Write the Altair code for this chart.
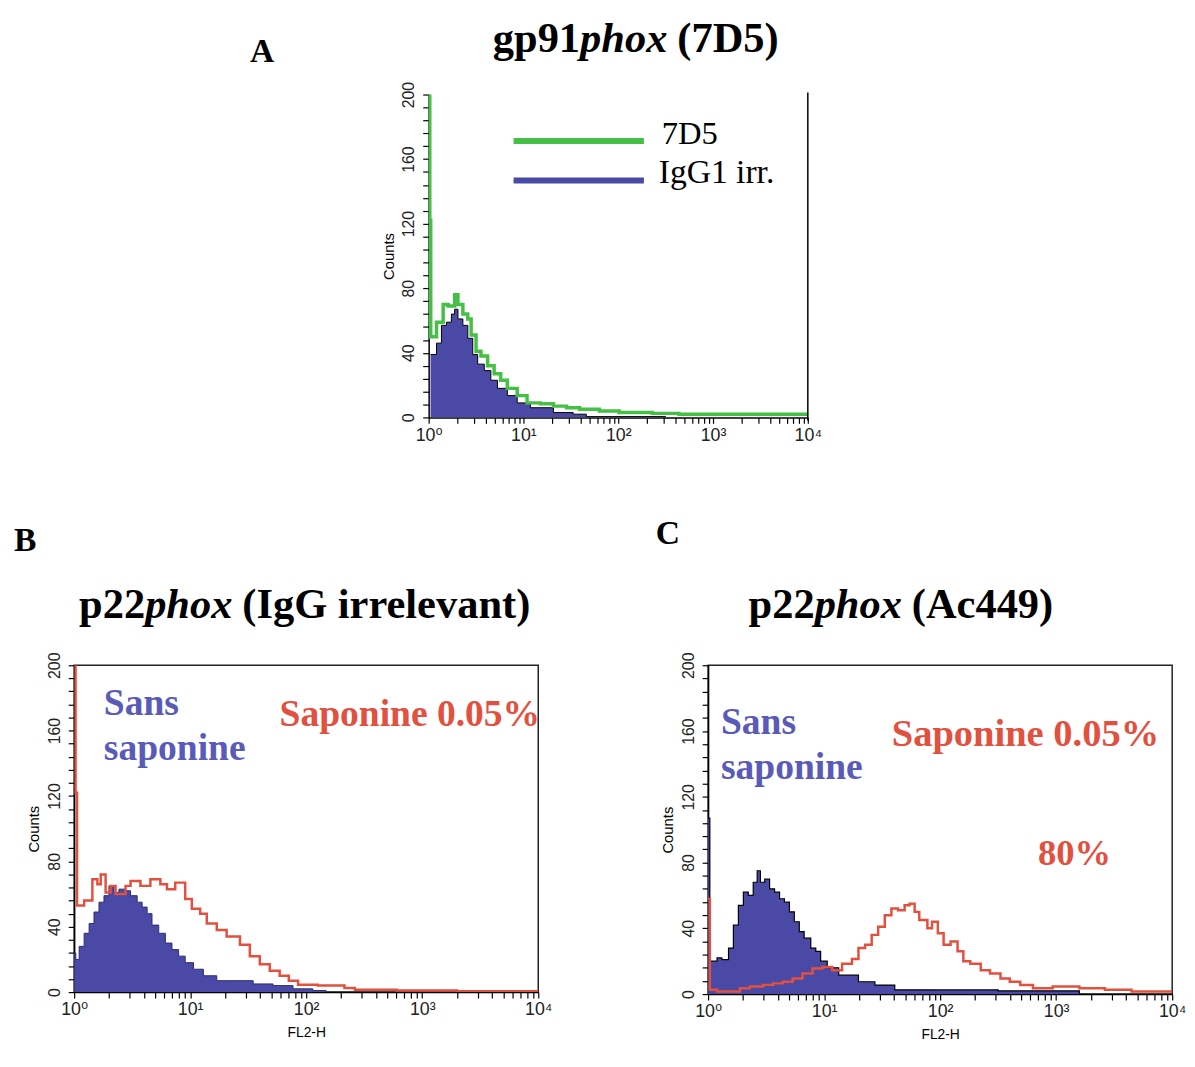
import altair as alt
import pandas as pd

# ---------------- data (x in decades, y = counts) ----------------
# Panel A : gp91phox (7D5)
a_green_logx = [0, 0.012, 0.022, 0.083, 0.153, 0.205, 0.274, 0.309, 0.361, 0.413, 0.448,
                0.5, 0.552, 0.622, 0.691, 0.76, 0.83, 0.934, 1.038, 1.177, 1.316, 1.455,
                1.594, 1.80, 2.01, 2.36, 2.64, 4.0]
a_green_counts = [250, 122, 50, 59, 70, 69, 76, 70, 64, 61, 51,
                  41, 38, 32, 27, 23, 18, 13.5, 9, 8.5, 7, 6,
                  5, 4, 3, 2.5, 2, 2]
a_blue_logx = [0.02, 0.083, 0.135, 0.188, 0.24, 0.274, 0.309, 0.361, 0.413, 0.465, 0.517,
               0.587, 0.656, 0.726, 0.83, 0.934, 1.073, 1.316, 1.524, 1.663, 2.5]
a_blue_counts = [39, 46, 57, 59, 64, 67, 61, 57, 49, 39, 33,
                 29, 23, 18, 13.5, 9, 6, 3, 2, 0.5, 0]

# Panel B : p22phox (IgG irrelevant)
b_red_logx = [0, 0.012, 0.025, 0.086, 0.157, 0.2, 0.229, 0.271, 0.314, 0.357, 0.443,
              0.486, 0.571, 0.657, 0.743, 0.8, 0.871, 0.957, 1.014, 1.086, 1.143, 1.229,
              1.314, 1.429, 1.514, 1.6, 1.686, 1.771, 1.85, 1.93, 2.1, 2.33, 2.42, 2.78,
              3.3, 4.0]
b_red_counts = [250, 122, 53, 56, 69, 66, 72, 61, 65, 60, 65,
                68, 65, 69, 66, 63, 67, 57, 51, 48, 42, 38,
                34, 29, 22, 17, 13, 10, 7, 4.5, 4, 2.5, 1.5, 1,
                0.5, 0.5]
b_blue_logx = [0.0, 0.014, 0.043, 0.086, 0.129, 0.171, 0.214, 0.257, 0.3, 0.343, 0.386,
               0.443, 0.486, 0.543, 0.586, 0.629, 0.671, 0.729, 0.786, 0.843, 0.9, 0.957,
               1.029, 1.114, 1.229, 1.371, 1.543, 1.714, 1.886, 2.057, 2.171]
b_blue_counts = [24, 20, 28, 36, 42, 49, 55, 59, 65, 61, 63,
                 62, 59, 55, 52, 48, 41, 36, 30, 26, 22, 18,
                 14, 10, 7, 7, 5, 4, 2, 1, 0]

# Panel C : p22phox (Ac449)
c_blue_logx = [0, 0.015, 0.077, 0.119, 0.176, 0.218, 0.261, 0.304, 0.346, 0.389, 0.423,
               0.451, 0.488, 0.53, 0.573, 0.616, 0.658, 0.701, 0.743, 0.786, 0.828, 0.885,
               0.928, 0.97, 1.027, 1.126, 1.296, 1.438, 1.609, 1.95, 2.5, 3.2]
c_blue_counts = [107, 20, 22, 21, 28, 42, 54, 62, 60, 68, 75,
                 68, 70, 64, 62, 58, 56, 50, 44, 38, 34, 28,
                 26, 20, 16, 11.5, 7.5, 5.5, 2.6, 2.5, 2, 0]
c_red_logx = [0, 0.015, 0.077, 0.275, 0.36, 0.474, 0.559, 0.644, 0.729, 0.814, 0.9,
              0.985, 1.07, 1.155, 1.24, 1.296, 1.353, 1.41, 1.466, 1.523, 1.58, 1.637,
              1.694, 1.736, 1.78, 1.82, 1.89, 1.93, 1.98, 2.03, 2.09, 2.15, 2.2, 2.26,
              2.35, 2.43, 2.52, 2.6, 2.69, 2.8, 2.97, 3.2, 3.42, 3.65, 4.0]
c_red_counts = [58, 2.6, 1.6, 3.6, 4.6, 5.6, 6.5, 7.5, 9.5, 12.5, 15.5,
                16.5, 14.5, 18.5, 21.4, 28, 30, 36, 41, 48, 52, 51,
                54, 55, 50, 45, 40, 44, 37, 30, 32, 26, 20, 18.5,
                14.5, 12.5, 9.5, 7.5, 5.5, 3.6, 4.6, 3.6, 2.6, 1.6, 1.6]

x_tick_values = [m * 10 ** d for d in range(4) for m in range(1, 10)] + [10000]
y_tick_values = list(range(0, 201, 8))

GREEN = "#45bf45"
BLUE = "#4a4aa6"
BLUE_TXT = "#5a5ab8"
RED = "#e2503f"
SERIF = "Liberation Serif"
SANS = "Liberation Sans, DejaVu Sans"


def table(logx, counts):
    return pd.DataFrame({"x": [10 ** v for v in logx], "y": counts})


X_LABEL = ("datum.value == 1 ? '10\u2070' : datum.value == 10 ? '10\u00b9' : "
           "datum.value == 100 ? '10\u00b2' : datum.value == 1000 ? '10\u00b3' : "
           "datum.value == 10000 ? '10\u2074' : ''")


def enc_x(title):
    return alt.X("x:Q", scale=alt.Scale(type="log", domain=[1, 10000], nice=False),
                 axis=alt.Axis(values=x_tick_values, labelExpr=X_LABEL, labelOverlap=False,
                               labelFlush=False, labelFont=SANS, labelFontSize=18,
                               labelColor="#222", tickSize=6, tickColor="black",
                               tickWidth=1.2, domainColor="black", domainWidth=1.5,
                               grid=False, labelPadding=3, title=title, titleFont=SANS,
                               titleFontSize=14, titleFontWeight="normal",
                               titlePadding=7))


def enc_y():
    return alt.Y("y:Q", scale=alt.Scale(domain=[0, 200], nice=False),
                 axis=alt.Axis(values=y_tick_values,
                               labelExpr="datum.value % 40 == 0 ? datum.label : ''",
                               labelOverlap=False, labelAngle=270, labelFont=SANS,
                               labelFontSize=16, labelColor="#222", tickSize=6,
                               tickColor="black", tickWidth=1.2, domainColor="black",
                               domainWidth=1.5, grid=False, labelPadding=6,
                               title="Counts", titleFont=SANS, titleFontSize=15,
                               titleFontWeight="normal", titlePadding=5))


def txt(text, x, y, size, color="black", weight="bold", style="normal", font=SERIF):
    return alt.Chart(pd.DataFrame({"t": [text]})).mark_text(
        text=text, align="left", baseline="alphabetic", font=font, fontSize=size,
        fontWeight=weight, fontStyle=style, color=color
    ).encode(x=alt.value(x), y=alt.value(y))


def area(d, xt):
    return alt.Chart(d).mark_area(interpolate="step-after", color=BLUE, clip=True).encode(
        x=enc_x(xt), y=enc_y())


def line(d, xt, color, width):
    return alt.Chart(d).mark_line(interpolate="step-after", color=color, strokeWidth=width,
                                  clip=True).encode(x=enc_x(xt), y=enc_y())


def title_parts(x0, y, first, rest, w1, w2):
    return [txt(first, x0, y, 43), txt("phox", x0 + w1, y, 43, style="italic"),
            txt(rest, x0 + w1 + w2 + 10, y, 43)]


# ---------------- panel A ----------------
dA_g = table(a_green_logx, a_green_counts)
dA_b = table(a_blue_logx, a_blue_counts)
panelA = alt.layer(
    area(dA_b, ""),
    line(dA_b, "", "black", 1),
    line(dA_g, "", GREEN, 3.5),
    alt.Chart(pd.DataFrame({"t": [0]})).mark_rule(color="black", strokeWidth=1.5).encode(
        x=alt.value(384), y=alt.value(-2), y2=alt.value(330)),
    alt.Chart(pd.DataFrame({"t": [0]})).mark_rule(color=GREEN, strokeWidth=6).encode(
        x=alt.value(86), x2=alt.value(218), y=alt.value(47)),
    alt.Chart(pd.DataFrame({"t": [0]})).mark_rule(color=BLUE, strokeWidth=6).encode(
        x=alt.value(86), x2=alt.value(218), y=alt.value(87)),
    txt("7D5", 236, 50, 33, weight="normal"),
    txt("IgG1 irr.", 233, 90, 34, weight="normal"),
    *title_parts(65, -43, "gp91", "(7D5)", 88.4, 88.4),
).properties(width=384, height=327, view=alt.ViewBackground(strokeOpacity=0))

spacer = txt("A", 178, -33, 34).properties(
    width=359, height=327, view=alt.ViewBackground(strokeOpacity=0))

# ---------------- panel B ----------------
dB_r = table(b_red_logx, b_red_counts)
dB_b = table(b_blue_logx, b_blue_counts)
panelB = alt.layer(
    area(dB_b, "FL2-H"),
    line(dB_b, "FL2-H", "#2c2c70", 1),
    line(dB_r, "FL2-H", RED, 2.5),
    txt("Sans", 30, 50, 38, color=BLUE_TXT),
    txt("saponine", 30, 96, 38, color=BLUE_TXT),
    txt("Saponine 0.05%", 208, 62, 38, color=RED),
    txt("B", -61, -116, 34),
    *title_parts(5, -48, "p22", "(IgG irrelevant)", 66.9, 88.4),
).properties(width=470, height=331,
             view=alt.ViewBackground(stroke="#222", strokeWidth=1.5))

# ---------------- panel C ----------------
dC_r = table(c_red_logx, c_red_counts)
dC_b = table(c_blue_logx, c_blue_counts)
panelC = alt.layer(
    area(dC_b, "FL2-H"),
    line(dC_b, "FL2-H", "black", 1.2),
    line(dC_r, "FL2-H", RED, 2.5),
    txt("Sans", 13, 70, 38, color=BLUE_TXT),
    txt("saponine", 13, 115, 38, color=BLUE_TXT),
    txt("Saponine 0.05%", 186, 82, 39, color=RED),
    txt("80%", 334, 202, 37, color=RED),
    txt("C", -53, -123, 34),
    *title_parts(41, -48, "p22", "(Ac449)", 66.9, 88.4),
).properties(width=470, height=333,
             view=alt.ViewBackground(stroke="#222", strokeWidth=1.5))

top = alt.hconcat(spacer, panelA, spacing=0, bounds="flush")
bottom = alt.hconcat(panelB, panelC, spacing=172, bounds="flush")
chart = alt.vconcat(top, bottom, spacing=578, bounds="flush").properties(
    padding={"left": 5, "top": 4, "right": 0, "bottom": 0})

chart.save("out.html", embed_options={"renderer": "svg", "actions": False})
